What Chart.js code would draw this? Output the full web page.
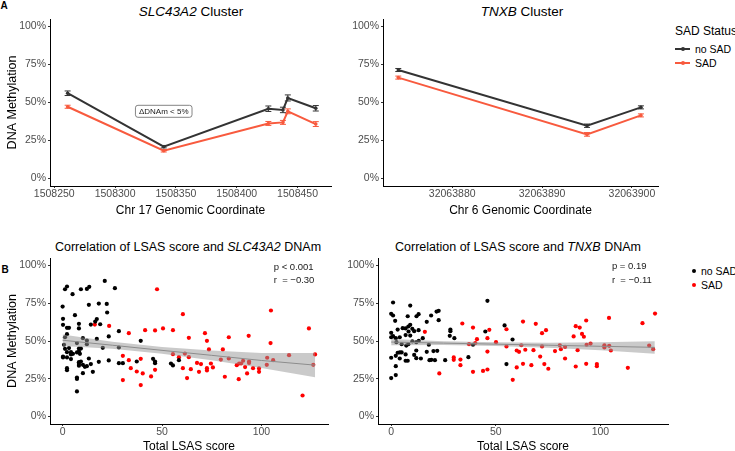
<!DOCTYPE html>
<html>
<head>
<meta charset="utf-8">
<script src="https://cdn.jsdelivr.net/npm/chart.js@4.4.1/dist/chart.umd.min.js"></script>
<style>
  body { margin: 0; width: 735px; height: 451px; overflow: hidden; position: relative; background: #fff;
         font-family: "Liberation Sans", Arial, sans-serif; color: #000; }
  canvas { position: absolute; }
  .t { position: absolute; transform: translate(-50%, -50%); white-space: nowrap; }
  .l { position: absolute; transform: translateY(-50%); white-space: nowrap; }
  .key { position: absolute; height: 2px; width: 15px; }
  .dot { position: absolute; width: 4px; height: 4px; border-radius: 50%; }
</style>
</head>
<body>
<div class="t" style="left:4px;top:5px;font-size:10px;font-weight:bold">A</div>
<div class="t" style="left:5px;top:269px;font-size:10px;font-weight:bold">B</div>

<div class="t" style="left:191px;top:11px;font-size:13.5px"><i>SLC43A2</i> Cluster</div>
<div class="t" style="left:522px;top:11px;font-size:13.5px"><i>TNXB</i> Cluster</div>
<div class="t" style="left:188px;top:247px;font-size:12.5px">Correlation of LSAS score and <i>SLC43A2</i> DNAm</div>
<div class="t" style="left:518px;top:247px;font-size:12.5px">Correlation of LSAS score and <i>TNXB</i> DNAm</div>

<canvas id="tl" width="340" height="213" style="left:0;top:9px"></canvas>
<canvas id="tr" width="322" height="213" style="left:340px;top:9px"></canvas>
<canvas id="bl" width="338" height="206" style="left:0;top:248px"></canvas>
<canvas id="br" width="332" height="206" style="left:340px;top:248px"></canvas>

<!-- legend, top -->
<div class="l" style="left:675px;top:31px;font-size:12px">SAD Status</div>
<div class="key" style="left:675px;top:48px;background:#333"></div>
<div class="dot" style="left:680.5px;top:47px;background:#333"></div>
<div class="l" style="left:695px;top:49px;font-size:10.5px">no SAD</div>
<div class="key" style="left:675px;top:62px;background:#f85a3e"></div>
<div class="dot" style="left:680.5px;top:61px;background:#f85a3e"></div>
<div class="l" style="left:695px;top:62.5px;font-size:10.5px">SAD</div>

<!-- legend, bottom -->
<div class="dot" style="left:691.5px;top:269px;background:#000"></div>
<div class="l" style="left:701px;top:271px;font-size:10.5px">no SAD</div>
<div class="dot" style="left:691.5px;top:282.5px;background:#f00"></div>
<div class="l" style="left:701px;top:284.5px;font-size:10.5px">SAD</div>

<script>
// ---- panel A: mean DNAm per CpG site ----
const slcCoord = [1508261, 1508340, 1508426, 1508438, 1508442, 1508465];
const slcNoSad = [56.1, 20.9, 45.9, 45.1, 53.0, 46.2];
const slcSad = [47.2, 18.2, 36.2, 36.9, 44.2, 35.8];
const slcNoSadErr = [1.5, 0.8, 1.8, 1.8, 2.0, 1.8];
const slcSadErr = [1.0, 0.8, 1.3, 1.3, 1.6, 1.6];
const slcTicks = [1508250, 1508300, 1508350, 1508400, 1508450];

const tnxbCoord = [32063874, 32063895, 32063901];
const tnxbNoSad = [71.4, 34.7, 46.8];
const tnxbSad = [66.4, 29.0, 41.5];
const tnxbNoSadErr = [1.0, 1.1, 1.0];
const tnxbSadErr = [1.0, 1.2, 1.0];
const tnxbTicks = [32063880, 32063890, 32063900];

const pctTicks = [0, 25, 50, 75, 100];
const scoreTicks = [0, 50, 100];

// ---- panel B: LSAS score vs DNAm (score, %) ----
const slcScatterNoSad = [
  [21.2, 89.8], [2.2, 86.1], [1.2, 84.3], [9.2, 84.3], [12.2, 84.5], [13.4, 85.9], [26.3, 85.0],
  [5.0, 81.0], [0, 72.8], [13.2, 74.0], [18.2, 74.8], [22.2, 74.6], [6.2, 67.1], [22.4, 68.9],
  [0.2, 64.7], [17.2, 64.5], [16.4, 62.9], [8.2, 61.4], [0.2, 60.7], [14.2, 60.9], [18.9, 61.1],
  [2.2, 58.7], [3.2, 58.7], [8.2, 58.3], [28.3, 56.5], [2.2, 54.5], [1.2, 52.5], [23.2, 53.0],
  [10.2, 51.9], [17.2, 51.4], [12.2, 50.3], [12.2, 47.9], [0.7, 47.5], [7.2, 48.6], [1.2, 44.8],
  [3.2, 45.3], [8.2, 45.0], [9.2, 45.0], [20.2, 45.5], [28.3, 45.7], [39.3, 50.1], [2.2, 42.6],
  [4.2, 42.6], [5.2, 41.5], [4.2, 41.1], [7.2, 42.4], [8.7, 41.5], [8.2, 43.0], [0.2, 39.7],
  [0.2, 39.1], [2.2, 39.1], [4.2, 38.0], [37.3, 36.4], [13.2, 38.4], [18.2, 36.2], [23.2, 37.1],
  [28.3, 35.3], [30.3, 35.3], [8.2, 36.0], [9.2, 36.4], [8.2, 34.7], [8.2, 33.6], [10.2, 34.2],
  [11.2, 32.9], [12.2, 33.3], [14.2, 34.7], [2.2, 32.0], [2.2, 30.7], [10.2, 28.7], [15.2, 29.6],
  [7.2, 25.8], [7.2, 24.9], [7.2, 16.6], [45.5, 38.2], [46.5, 36.4], [46.5, 35.3], [54.5, 35.1],
  [55.5, 33.8], [58.5, 37.3]
];
const slcScatterSad = [
  [16.2, 60.9], [23.4, 60.0], [33.3, 55.2], [30.3, 40.2], [33.3, 37.3], [39.3, 38.2], [34.3, 32.0],
  [37.3, 29.8], [40.3, 28.5], [30.3, 24.1], [39.3, 20.8], [47.5, 84.3], [60.5, 67.8], [41.5, 57.2],
  [46.5, 57.0], [50.5, 58.3], [55.5, 57.2], [63.5, 52.1], [71.6, 55.2], [72.6, 50.1], [83.6, 52.5],
  [73.6, 44.4], [80.6, 44.4], [55.5, 41.3], [61.5, 41.7], [58.5, 39.3], [63.5, 39.3], [79.6, 37.7],
  [83.6, 38.4], [87.6, 34.0], [46.5, 30.9], [44.5, 26.5], [60.5, 32.0], [64.5, 31.3], [67.6, 35.5],
  [69.6, 34.7], [68.6, 29.6], [72.6, 32.0], [72.6, 30.5], [74.6, 35.1], [75.6, 32.5], [62.6, 25.4],
  [81.6, 26.3], [88.6, 24.7], [104.8, 70.2], [123.9, 58.3], [93.6, 53.4], [104.6, 48.6], [113.9, 40.6],
  [127.0, 41.1], [102.9, 38.9], [105.9, 37.3], [126.1, 34.2], [102.7, 34.2], [88.8, 35.1], [89.8, 35.1],
  [90.8, 36.9], [93.8, 36.4], [93.8, 35.5], [91.8, 32.7], [95.8, 32.0], [98.8, 31.8], [98.8, 29.6],
  [92.8, 28.5], [120.7, 13.9]
];
const slcFitScore = [0, 25, 50, 75, 100, 127];
const slcFit = [50.5, 47.2, 43.8, 40.5, 37.1, 34.0];
const slcFitHigh = [54.3, 49.5, 46.0, 43.7, 42.1, 42.0];
const slcFitLow = [46.7, 44.9, 41.6, 37.3, 32.1, 26.0];

const tnxbScatterNoSad = [
  [0.9, 75.5], [9.1, 73.5], [0, 68.0], [0.9, 66.9], [22.7, 70.0], [21.7, 69.5], [13.1, 67.8],
  [12.1, 66.4], [7.9, 66.4], [19.1, 66.9], [22.7, 63.8], [1.9, 63.4], [17.0, 62.7], [9.1, 60.7],
  [8.2, 59.6], [5.5, 58.5], [3.1, 57.6], [6.9, 58.3], [10.1, 58.1], [13.1, 57.2], [11.0, 56.5],
  [8.3, 56.3], [28.3, 57.6], [28.3, 56.5], [0, 55.4], [0.9, 53.2], [2.2, 51.9], [4.1, 52.5],
  [0, 52.5], [6.9, 53.9], [9.1, 53.6], [15.1, 51.9], [28.0, 53.4], [30.2, 51.9], [2.5, 49.2],
  [5.0, 47.9], [7.2, 47.0], [8.2, 47.9], [10.1, 49.7], [12.0, 49.2], [13.2, 50.1], [18.0, 47.5],
  [3.1, 42.2], [4.1, 42.4], [5.0, 42.4], [12.0, 43.7], [17.0, 42.8], [20.2, 43.3], [22.0, 43.5],
  [0, 38.9], [2.2, 40.2], [4.1, 38.4], [6.9, 41.1], [11.0, 40.8], [12.0, 38.6], [14.2, 38.4],
  [18.3, 37.3], [19.2, 37.5], [20.9, 37.3], [25.8, 37.3], [36.9, 39.3], [6.9, 36.9], [7.9, 36.9],
  [2.2, 33.3], [0, 25.4], [2.2, 27.4], [46.0, 76.6], [54.2, 60.3], [45.0, 56.3], [58.0, 51.0],
  [39.1, 47.5], [55.1, 34.7]
];
const tnxbScatterSad = [
  [16.1, 56.1], [34.0, 61.6], [29.9, 39.1], [29.9, 37.5], [33.1, 37.7], [33.1, 34.0], [23.0, 28.5],
  [39.1, 58.9], [46.9, 57.4], [55.1, 57.8], [63.0, 62.9], [69.1, 61.4], [74.0, 57.2], [72.1, 55.2],
  [46.0, 51.9], [41.0, 51.2], [50.1, 49.2], [37.2, 47.9], [40.2, 48.6], [55.1, 46.4], [62.2, 47.2],
  [72.1, 46.4], [80.6, 47.2], [46.0, 43.0], [60.0, 43.7], [61.1, 42.8], [64.1, 44.2], [68.0, 43.9],
  [78.3, 43.3], [81.1, 44.6], [71.2, 39.7], [63.0, 34.9], [67.0, 34.0], [73.2, 34.7], [60.0, 32.5],
  [75.1, 31.6], [46.0, 31.1], [43.9, 30.2], [39.1, 29.6], [58.1, 24.3], [126.1, 68.2], [104.1, 65.3],
  [120.1, 61.8], [93.2, 63.6], [88.2, 59.8], [90.1, 58.9], [91.2, 54.7], [92.1, 52.8], [87.2, 53.0],
  [83.1, 46.1], [93.4, 47.5], [95.3, 48.3], [101.9, 47.2], [101.9, 45.7], [104.2, 46.8], [105.0, 43.7],
  [123.3, 47.0], [125.2, 44.6], [89.1, 43.9], [83.1, 38.4], [88.2, 33.1], [93.2, 34.9], [98.3, 34.7],
  [98.3, 33.3], [113.1, 32.2]
];
const tnxbFitScore = [0, 25, 50, 75, 100, 126];
const tnxbFit = [49.3, 48.6, 47.9, 47.2, 46.5, 45.8];
const tnxbFitHigh = [51.4, 49.9, 49.1, 48.9, 49.1, 49.8];
const tnxbFitLow = [47.2, 47.3, 46.7, 45.5, 43.9, 41.5];

const FONT = '"Liberation Sans", Arial, sans-serif';
const BLACK_LINE = '#333333';
const RED_LINE = '#f85a3e';

const xy = (xs, ys) => xs.map((x, i) => ({ x: x, y: ys[i] }));
const pairs = arr => arr.map(p => ({ x: p[0], y: p[1] }));

// error bars drawn from the y scale
const errorBars = {
  id: 'errorBars',
  afterDatasetsDraw(chart) {
    const ctx = chart.ctx, ys = chart.scales.y;
    chart.data.datasets.forEach((ds, i) => {
      if (!ds.errors) return;
      const meta = chart.getDatasetMeta(i);
      ctx.save();
      ctx.strokeStyle = ds.borderColor;
      ctx.lineWidth = 1;
      meta.data.forEach((pt, j) => {
        const v = ds.data[j].y, e = ds.errors[j];
        const y0 = ys.getPixelForValue(v - e), y1 = ys.getPixelForValue(v + e);
        ctx.beginPath();
        ctx.moveTo(pt.x, y0); ctx.lineTo(pt.x, y1);
        ctx.moveTo(pt.x - 3, y0); ctx.lineTo(pt.x + 3, y0);
        ctx.moveTo(pt.x - 3, y1); ctx.lineTo(pt.x + 3, y1);
        ctx.stroke();
      });
      ctx.restore();
    });
  }
};

// text notes placed at data coordinates
function notes(items) {
  return {
    id: 'notes',
    afterDraw(chart) {
      const ctx = chart.ctx;
      items.forEach(n => {
        const px = chart.scales.x.getPixelForValue(n.x);
        const py = chart.scales.y.getPixelForValue(n.y);
        ctx.save();
        ctx.font = n.size + 'px ' + FONT;
        ctx.textBaseline = 'middle';
        if (n.box) {
          const w = ctx.measureText(n.text).width + 7, h = n.size + 4;
          ctx.beginPath();
          ctx.roundRect(px - w / 2, py - h / 2, w, h, 2.5);
          ctx.fillStyle = '#fff';
          ctx.fill();
          ctx.strokeStyle = '#666';
          ctx.lineWidth = 0.8;
          ctx.stroke();
          ctx.textAlign = 'center';
        } else {
          ctx.textAlign = 'left';
        }
        ctx.fillStyle = '#1a1a1a';
        ctx.fillText(n.text, px, py);
        ctx.restore();
      });
    }
  };
}

function xScale(min, max, ticks, height, title, titlePad) {
  return {
    type: 'linear', min: min, max: max,
    afterBuildTicks: s => { s.ticks = ticks.map(v => ({ value: v })); },
    afterFit: s => { s.height = height; },
    ticks: { callback: v => String(v), color: '#4d4d4d', font: { size: 10.5, family: FONT },
             padding: 0, autoSkip: false, maxRotation: 0 },
    grid: { drawOnChartArea: false, tickLength: 2, color: '#333' },
    border: { display: true, color: '#000', width: 1 },
    title: { display: true, text: title, color: '#000', font: { size: 12, family: FONT },
             padding: { top: 0, bottom: titlePad } }
  };
}

function yScale(width, title) {
  return {
    type: 'linear', min: -5, max: 105,
    afterBuildTicks: s => { s.ticks = pctTicks.map(v => ({ value: v })); },
    afterFit: s => { s.width = width; },
    ticks: { callback: v => v + '%', color: '#4d4d4d', font: { size: 10.5, family: FONT }, padding: 2 },
    grid: { drawOnChartArea: false, tickLength: 2, color: '#333' },
    border: { display: true, color: '#000', width: 1 },
    title: { display: !!title, text: title || '', color: '#000', font: { size: 12.5, family: FONT },
             padding: { top: 5.5, bottom: 0 } }
  };
}

function lineSet(data, color, errors) {
  return { type: 'line', data: data, errors: errors, borderColor: color, backgroundColor: color,
           borderWidth: 2, pointRadius: 1.8, pointBorderWidth: 0, fill: false, tension: 0 };
}

function dotSet(data, color) {
  return { type: 'scatter', data: data, backgroundColor: color, borderWidth: 0, pointRadius: 2.1, order: 2 };
}

function fitSets(xs, fit, hi, lo) {
  return [
    { type: 'line', data: xy(xs, fit), borderColor: '#8c8c8c', borderWidth: 1, pointRadius: 0, fill: false, order: 0 },
    { type: 'line', data: xy(xs, hi), borderWidth: 0, borderColor: 'rgba(0,0,0,0)', pointRadius: 0,
      fill: '+1', backgroundColor: 'rgba(150,150,150,0.5)', order: 1 },
    { type: 'line', data: xy(xs, lo), borderWidth: 0, borderColor: 'rgba(0,0,0,0)', pointRadius: 0, fill: false, order: 1 }
  ];
}

const common = {
  responsive: false, animation: false, events: [],
  plugins: { legend: { display: false }, tooltip: { enabled: false } }
};

new Chart(document.getElementById('tl'), {
  type: 'scatter',
  data: { datasets: [
    lineSet(xy(slcCoord, slcNoSad), BLACK_LINE, slcNoSadErr),
    lineSet(xy(slcCoord, slcSad), RED_LINE, slcSadErr)
  ] },
  options: Object.assign({}, common, {
    layout: { padding: { top: 10, right: 9, left: 0, bottom: 0 } },
    scales: {
      x: xScale(1508246.5, 1508477.5, slcTicks, 36, 'Chr 17 Genomic Coordinate', 4),
      y: yScale(50, 'DNA Methylation')
    }
  }),
  plugins: [errorBars, notes([{ x: 1508340, y: 44.2, text: '\u0394DNAm < 5%', size: 8, box: true }])]
});

new Chart(document.getElementById('tr'), {
  type: 'scatter',
  data: { datasets: [
    lineSet(xy(tnxbCoord, tnxbNoSad), BLACK_LINE, tnxbNoSadErr),
    lineSet(xy(tnxbCoord, tnxbSad), RED_LINE, tnxbSadErr)
  ] },
  options: Object.assign({}, common, {
    layout: { padding: { top: 10, right: 0, left: 0, bottom: 0 } },
    scales: {
      x: xScale(32063872.3, 32063902.9, tnxbTicks, 36, 'Chr 6 Genomic Coordinate', 4),
      y: yScale(43, null)
    }
  }),
  plugins: [errorBars]
});

new Chart(document.getElementById('bl'), {
  type: 'scatter',
  data: { datasets: [
    dotSet(pairs(slcScatterNoSad), '#000000'),
    dotSet(pairs(slcScatterSad), '#ff0000')
  ].concat(fitSets(slcFitScore, slcFit, slcFitHigh, slcFitLow)) },
  options: Object.assign({}, common, {
    layout: { padding: { top: 10, right: 10, left: 0, bottom: 0 } },
    scales: {
      x: xScale(-6.35, 133.5, scoreTicks, 30, 'Total LSAS score', 0),
      y: yScale(50, 'DNA Methylation')
    }
  }),
  plugins: [notes([
    { x: 106.2, y: 98.7, text: 'p < 0.001', size: 9.5 },
    { x: 106.2, y: 90.0, text: 'r  = \u22120.30', size: 9.5 }
  ])]
});

new Chart(document.getElementById('br'), {
  type: 'scatter',
  data: { datasets: [
    dotSet(pairs(tnxbScatterNoSad), '#000000'),
    dotSet(pairs(tnxbScatterSad), '#ff0000')
  ].concat(fitSets(tnxbFitScore, tnxbFit, tnxbFitHigh, tnxbFitLow)) },
  options: Object.assign({}, common, {
    layout: { padding: { top: 10, right: 0, left: 0, bottom: 0 } },
    scales: {
      x: xScale(-6.3, 132.3, scoreTicks, 30, 'Total LSAS score', 0),
      y: yScale(38, null)
    }
  }),
  plugins: [notes([
    { x: 105.5, y: 99.5, text: 'p = 0.19', size: 9.5 },
    { x: 105.5, y: 90.0, text: 'r  = \u22120.11', size: 9.5 }
  ])]
});
</script>
</body>
</html>
